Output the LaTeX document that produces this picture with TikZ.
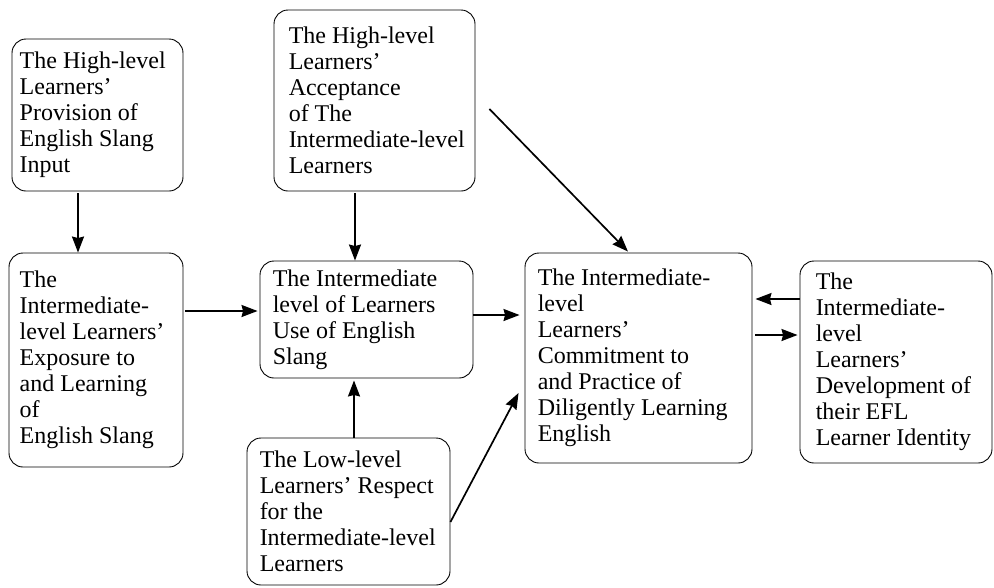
\documentclass[tikz,border=0pt]{standalone}
\usepackage{fontspec}
\setmainfont{Liberation Serif}
\usetikzlibrary{arrows.meta,calc}
\begin{document}
\begin{tikzpicture}[x=1pt,y=-1pt,
  box/.style={draw, rounded corners=14pt, line width=0.9pt, inner sep=0pt},
  txt/.style={anchor=west, align=left, inner sep=0pt, font=\fontsize{24}{26}\selectfont},
  arr/.style={line width=1.7pt, -{Stealth[length=16pt,width=12pt,inset=1.5pt]}}]
\useasboundingbox (0,0) rectangle (994,587);

% boxes
\node[box, minimum width=171pt, minimum height=152pt] (A) at (97.5,115) {};
\node[box, minimum width=174pt, minimum height=214pt] (B) at (96,360) {};
\node[box, minimum width=201pt, minimum height=181pt] (C) at (374.5,100.5) {};
\node[box, minimum width=213pt, minimum height=117pt] (D) at (366.5,319.5) {};
\node[box, minimum width=203pt, minimum height=147pt] (E) at (348.5,511.5) {};
\node[box, minimum width=227pt, minimum height=210pt] (F) at (638.5,358) {};
\node[box, minimum width=192pt, minimum height=202pt] (G) at (896,362) {};

% texts
\node[txt] (tA) at ([xshift=8pt]A.west) {The High-level\\Learners’\\Provision of\\English Slang\\Input};
\node[txt] (tB) at ([xshift=11pt]B.west) {The\\Intermediate-\\level Learners’\\Exposure to\\and Learning\\of\\English Slang};
\node[txt] (tC) at ([xshift=15pt]C.west) {The High-level\\Learners’\\Acceptance\\of The\\Intermediate-level\\Learners};
\node[txt] (tD) at ([xshift=13pt]D.west) {The Intermediate\\level of Learners\\Use of English\\Slang};
\node[txt] (tE) at ([xshift=13pt]E.west) {The Low-level\\Learners’ Respect\\for the\\Intermediate-level\\Learners};
\node[txt] (tF) at ([xshift=13pt]F.west) {The Intermediate-\\level\\Learners’\\Commitment to\\and Practice of\\Diligently Learning\\English};
\node[txt] (tG) at ([xshift=16pt]G.west) {The\\Intermediate-\\level\\Learners’\\Development of\\their EFL\\Learner Identity};

% helper coordinates
\coordinate (ab) at ([xshift=-19.5pt]A.south);
\coordinate (cd) at ([xshift=-19.5pt]C.south);
\coordinate (bd) at ([yshift=49pt]B.east);
\coordinate (df) at ([yshift=4.5pt]D.east);
\coordinate (ed) at ([xshift=5.5pt]E.north);
\coordinate (es) at ([yshift=-10.5pt]E.east);
\coordinate (ee) at ([xshift=-6pt,yshift=-35pt]F.west);
\coordinate (cs) at ([xshift=14pt,yshift=-8.5pt]C.east);
\coordinate (ce) at ([xshift=-10.5pt,yshift=1pt]F.north);
\coordinate (gf) at ([yshift=63pt]G.west);
\coordinate (fg) at ([yshift=23pt]F.east);

% connectors
\draw[arr] ([yshift=-2pt]ab) -- (ab |- B.north);
\draw[arr] ([yshift=-2pt]cd) -- (cd |- D.north);
\draw[arr] ([xshift=2pt]bd) -- ([xshift=-2pt]bd -| D.west);
\draw[arr] (df) -- ([xshift=-5pt]df -| F.west);
\draw[arr] (ed) -- ([yshift=-2pt]ed |- D.south);
\draw[arr] (es) -- (ee);
\draw[arr] (cs) -- (ce);
\draw[arr] (gf) -- ([xshift=3pt]gf -| F.east);
\draw[arr] ([xshift=3pt]fg) -- ([xshift=-2pt]fg -| G.west);
\end{tikzpicture}
\end{document}
